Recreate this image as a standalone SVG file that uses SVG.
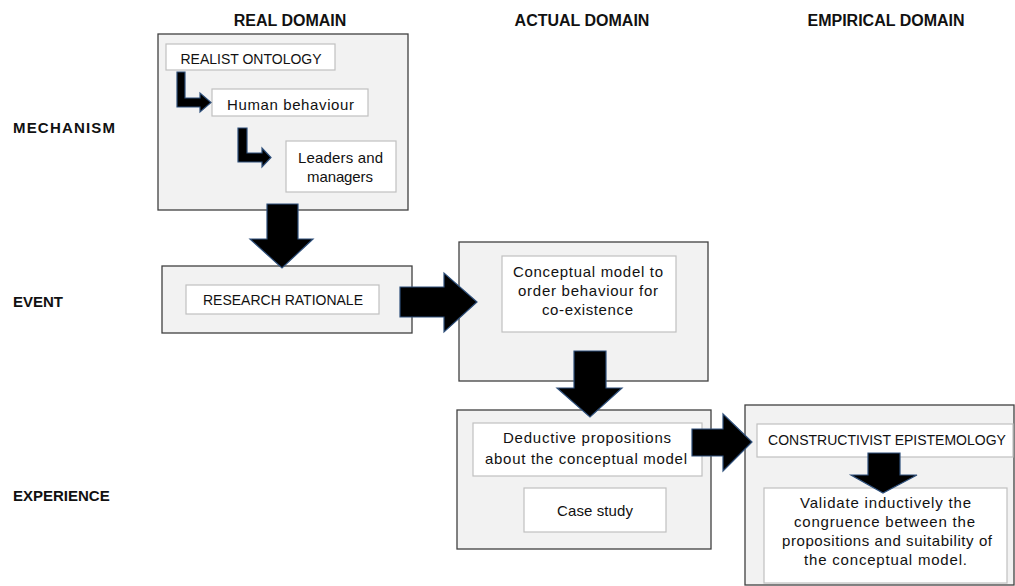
<svg xmlns="http://www.w3.org/2000/svg" width="1015" height="586" viewBox="0 0 1015 586">
<style>
.outer{fill:#f2f2f2;stroke:#404040;stroke-width:1.3}
.inner{fill:#ffffff;stroke:#c0c0c0;stroke-width:1.2}
.arr{fill:#000000;stroke:#2e4f7a;stroke-width:1.2;stroke-linejoin:miter}
text{font-family:"Liberation Sans",Arial,sans-serif;fill:#111111}
.t{font-size:14px;text-anchor:middle}
.s{font-size:15px;text-anchor:middle}
.h{font-size:16px;font-weight:bold;text-anchor:middle}
.l{font-size:15px;font-weight:bold}
</style>
<rect width="1015" height="586" fill="#ffffff"/>
<g id="headers">
<text class="h" x="290" y="26">REAL DOMAIN</text>
<text class="h" x="582" y="26">ACTUAL DOMAIN</text>
<text class="h" x="886" y="26">EMPIRICAL DOMAIN</text>
</g>
<g id="rowlabels">
<text class="l" x="13" y="133" textLength="102" lengthAdjust="spacing">MECHANISM</text>
<text class="l" x="13" y="307">EVENT</text>
<text class="l" x="13" y="501">EXPERIENCE</text>
</g>
<g id="real-mechanism">
<rect class="outer" x="158" y="34" width="250" height="176"/>
</g>
<g id="realist-ontology">
<rect class="inner" x="166" y="44" width="169" height="26"/>
<text class="t" x="251" y="64">REALIST ONTOLOGY</text>
</g>
<g id="human-behaviour">
<rect class="inner" x="212" y="89" width="156" height="27"/>
<text class="s" x="290.5" y="110" textLength="127" lengthAdjust="spacing">Human behaviour</text>
</g>
<g id="leaders-managers">
<rect class="inner" x="286" y="141" width="110" height="51"/>
<text class="s" x="340.5" y="163" textLength="85" lengthAdjust="spacing">Leaders and</text>
<text class="s" x="340" y="182" textLength="66" lengthAdjust="spacing">managers</text>
</g>
<g id="event">
<rect class="outer" x="162" y="266" width="250" height="67"/>
</g>
<g id="research-rationale">
<rect class="inner" x="186" y="285" width="193" height="29"/>
<text class="t" x="283" y="305">RESEARCH RATIONALE</text>
</g>
<g id="actual-event">
<rect class="outer" x="459" y="242" width="249" height="139"/>
</g>
<g id="conceptual-model">
<rect class="inner" x="502" y="256" width="174" height="76"/>
<text class="s" x="588" y="277" textLength="150" lengthAdjust="spacing">Conceptual model to</text>
<text class="s" x="588" y="296" textLength="140" lengthAdjust="spacing">order behaviour for</text>
<text class="s" x="587.5" y="315" textLength="91" lengthAdjust="spacing">co-existence</text>
</g>
<g id="actual-experience">
<rect class="outer" x="457" y="410" width="254" height="139"/>
</g>
<g id="deductive-propositions">
<rect class="inner" x="473" y="423" width="229" height="53"/>
<text class="s" x="587" y="443" textLength="168" lengthAdjust="spacing">Deductive propositions</text>
<text class="s" x="586" y="464" textLength="202" lengthAdjust="spacing">about the conceptual model</text>
</g>
<g id="case-study">
<rect class="inner" x="524" y="488" width="142" height="44"/>
<text class="s" x="595" y="516" textLength="76" lengthAdjust="spacing">Case study</text>
</g>
<g id="empirical-experience">
<rect class="outer" x="745" y="405" width="269" height="180"/>
</g>
<g id="constructivist-epistemology">
<rect class="inner" x="757" y="424" width="256" height="33"/>
<text class="t" x="887" y="445">CONSTRUCTIVIST EPISTEMOLOGY</text>
</g>
<g id="validate">
<rect class="inner" x="764" y="488" width="243" height="95"/>
<text class="s" x="885.5" y="508" textLength="171" lengthAdjust="spacing">Validate inductively the</text>
<text class="s" x="884.5" y="527" textLength="181" lengthAdjust="spacing">congruence between the</text>
<text class="s" x="887" y="546" textLength="210" lengthAdjust="spacing">propositions and suitability of</text>
<text class="s" x="885.5" y="565" textLength="163" lengthAdjust="spacing">the conceptual model.</text>
</g>
<g id="connectors">
<polygon class="arr" points="177,72 185,72 185,98 200,98 200,93 211,102.5 200,112 200,107 177,107"/>
<polygon class="arr" points="238,128 247,128 247,153 262,153 262,148 271,157.5 262,167 262,162 238,162"/>
<polygon class="arr" points="267,204 298,204 298,239 313,239 282,268 250,239 267,239"/>
<polygon class="arr" points="400,287 444,287 444,273 477,302 444,332 444,317 400,317"/>
<polygon class="arr" points="574,351 606,351 606,388 622,388 590,417 557,388 574,388"/>
<polygon class="arr" points="692,429 723,429 723,414 752,442 723,471 723,456 692,456"/>
<polygon class="arr" points="868,453 900,453 900,475 917,475 883,493 851,475 868,475"/>
</g>
</svg>
